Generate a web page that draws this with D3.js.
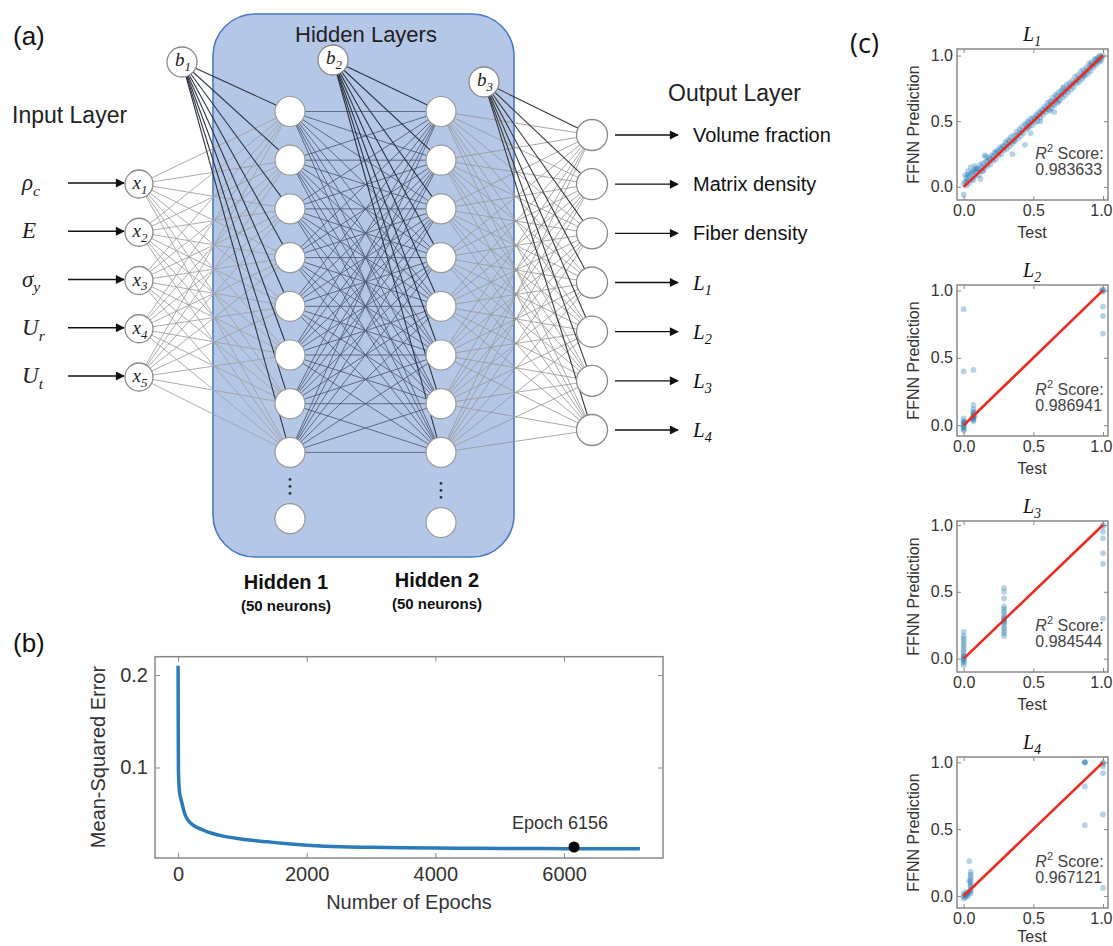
<!DOCTYPE html>
<html>
<head>
<meta charset="utf-8">
<script src="https://cdn.jsdelivr.net/npm/d3@7"></script>
<style>
  body { margin: 0; background: #fff; }
  svg { display: block; }
</style>
</head>
<body>
<div id="chart"></div>
<script>
// ---------------- data ----------------
// (a) network schematic
const inputSymbols = [["ρ", "c"], ["E", ""], ["σ", "y"], ["U", "r"], ["U", "t"]];
const inputNodes = ["1", "2", "3", "4", "5"];
const hiddenShown = [1, 2, 3, 4, 5, 6, 7, 8];
const biasNodes = ["1", "2", "3"];
const outputLabels = [["Volume fraction", ""], ["Matrix density", ""], ["Fiber density", ""],
  ["L", "1"], ["L", "2"], ["L", "3"], ["L", "4"]];
const hiddenTitles = ["Hidden 1", "Hidden 2"];
const hiddenSizes = ["(50 neurons)", "(50 neurons)"];

// (b) training loss
const epochs = [0, 2, 5, 10, 20, 40, 62, 90, 124, 180, 279, 400, 537, 700, 925, 1150, 1390,
  1700, 2010, 2527, 3000, 3500, 4000, 4500, 5000, 5500, 6000, 6500, 7000, 7180];
const mse = [0.210, 0.150, 0.100, 0.087, 0.075, 0.067, 0.061, 0.053, 0.0466, 0.041, 0.0358,
  0.032, 0.0286, 0.0258, 0.0232, 0.0212, 0.0196, 0.0176, 0.0160, 0.0142, 0.0136, 0.0131,
  0.0128, 0.0126, 0.0124, 0.0123, 0.0122, 0.0121, 0.0120, 0.0120];
const bestEpoch = 6156;
const bestMse = 0.0140;
const epochTicks = [0, 2000, 4000, 6000];
const mseTicks = [0.1, 0.2];

// (c) prediction vs test
const scatterTitles = ["1", "2", "3", "4"];
const r2Scores = ["0.983633", "0.986941", "0.984544", "0.967121"];
const unitTicks = [0, 0.5, 1];
const l1Points = [[0.00,-0.06],[0.00,0.02],[0.01,0.04],[0.01,0.09],[0.02,0.01],[0.02,0.07],[0.03,0.05],
  [0.03,0.12],[0.04,0.03],[0.05,0.10],[0.05,0.15],[0.06,0.06],[0.07,0.12],[0.08,0.08],[0.08,0.16],
  [0.09,0.11],[0.10,0.14],[0.11,0.09],[0.12,0.17],[0.13,0.12],[0.14,0.18],[0.15,0.14],[0.15,0.24],
  [0.16,0.19],[0.17,0.16],[0.18,0.22],[0.19,0.17],[0.20,0.24],[0.21,0.20],[0.22,0.26],[0.23,0.21],
  [0.24,0.28],[0.25,0.24],[0.26,0.30],[0.27,0.25],[0.28,0.31],[0.29,0.28],[0.30,0.34],[0.31,0.29],
  [0.32,0.36],[0.33,0.31],[0.34,0.38],[0.35,0.33],[0.35,0.25],[0.36,0.39],[0.37,0.35],[0.38,0.42],
  [0.39,0.37],[0.40,0.44],[0.41,0.39],[0.42,0.46],[0.43,0.41],[0.44,0.48],[0.44,0.32],[0.45,0.44],
  [0.46,0.50],[0.47,0.46],[0.48,0.52],[0.49,0.47],[0.50,0.53],[0.51,0.49],[0.52,0.55],[0.53,0.50],
  [0.54,0.57],[0.55,0.53],[0.56,0.59],[0.57,0.55],[0.58,0.61],[0.59,0.57],[0.60,0.64],[0.61,0.59],
  [0.62,0.65],[0.63,0.60],[0.64,0.68],[0.65,0.62],[0.65,0.57],[0.66,0.70],[0.67,0.64],[0.68,0.72],
  [0.69,0.66],[0.70,0.73],[0.71,0.68],[0.72,0.76],[0.73,0.70],[0.74,0.78],[0.75,0.72],[0.76,0.79],
  [0.77,0.74],[0.78,0.81],[0.79,0.76],[0.80,0.84],[0.81,0.79],[0.82,0.85],[0.83,0.80],[0.84,0.88],
  [0.85,0.82],[0.86,0.89],[0.87,0.85],[0.88,0.91],[0.89,0.86],[0.90,0.94],[0.91,0.88],[0.92,0.95],
  [0.93,0.91],[0.94,0.97],[0.95,0.93],[0.96,0.98],[0.97,0.95],[0.98,1.00],[0.99,0.97],[1.00,1.00],
  [0.02,0.04],[0.04,0.08],[0.06,0.11],[0.07,0.05],[0.09,0.14],[0.11,0.13],[0.13,0.15],[0.14,0.12],
  [0.17,0.20],[0.19,0.21],[0.21,0.23],[0.23,0.26],[0.25,0.27],[0.27,0.29],[0.29,0.31],[0.31,0.33],
  [0.33,0.35],[0.36,0.35],[0.38,0.39],[0.40,0.41],[0.42,0.43],[0.45,0.47],[0.47,0.49],[0.49,0.50],
  [0.51,0.52],[0.53,0.54],[0.55,0.56],[0.57,0.58],[0.59,0.60],[0.61,0.62],[0.62,0.58],[0.63,0.65],
  [0.66,0.66],[0.67,0.69],[0.68,0.65],[0.70,0.70],[0.72,0.72],[0.74,0.74],[0.76,0.76],[0.78,0.78],
  [0.80,0.80],[0.82,0.82],[0.84,0.84],[0.86,0.86],[0.88,0.88],[0.90,0.90],[0.92,0.92],[0.94,0.94],
  [0.96,0.96],[0.97,0.99],[0.99,0.99],[0.12,0.06],[0.08,0.13],[0.48,0.41],[0.55,0.50],[0.71,0.75],
  [0.16,0.23],[0.03,0.09],[0.91,0.93],[0.95,0.97],[0.98,0.96],[0.86,0.84],[0.64,0.63],[0.46,0.45]];
const l2Points = [[0.00,-0.04],[0.00,-0.03],[0.00,-0.02],[0.00,-0.01],[0.00,0.00],[0.00,0.01],
  [0.00,0.02],[0.00,0.03],[0.00,0.05],[0.01,0.02],[0.00,0.40],[0.00,0.86],
  [0.07,0.03],[0.07,0.04],[0.07,0.05],[0.07,0.06],[0.07,0.07],[0.07,0.08],[0.07,0.09],[0.07,0.10],
  [0.07,0.12],[0.07,0.15],[0.06,0.05],[0.08,0.07],[0.07,0.41],
  [1.00,1.00],[1.00,0.99],[1.00,1.01],[0.99,1.00],[1.00,0.88],[1.00,0.81],[1.00,0.68]];
const l3Points = [[0.00,-0.05],[0.00,-0.03],[0.00,-0.02],[0.00,-0.01],[0.00,0.00],[0.00,0.01],
  [0.00,0.02],[0.00,0.03],[0.00,0.05],[0.00,0.07],[0.00,0.09],[0.00,0.11],[0.00,0.13],[0.00,0.15],
  [0.00,0.17],[0.00,0.20],
  [0.29,0.17],[0.29,0.19],[0.29,0.21],[0.29,0.23],[0.29,0.25],[0.29,0.27],[0.29,0.28],[0.29,0.29],
  [0.29,0.30],[0.29,0.31],[0.29,0.33],[0.29,0.35],[0.29,0.37],[0.29,0.39],[0.29,0.45],[0.29,0.50],
  [0.29,0.53],
  [1.00,1.00],[1.00,0.99],[1.00,0.95],[1.00,0.90],[1.00,0.79],[1.00,0.71],[1.00,0.30]];
const l4Points = [[0.00,-0.02],[0.00,0.00],[0.00,0.02],[0.01,0.01],[0.01,-0.01],[0.02,0.03],
  [0.02,0.00],[0.03,0.02],[0.03,0.00],[0.04,0.03],[0.04,0.11],[0.04,0.26],[0.05,0.02],[0.05,0.04],
  [0.05,0.05],[0.05,0.07],[0.05,0.08],[0.05,0.10],[0.05,0.12],[0.05,0.14],[0.05,0.16],[0.05,0.18],
  [0.87,1.00],[0.87,1.00],[0.87,1.00],[0.87,0.82],[0.87,0.53],
  [1.00,1.00],[1.00,0.99],[1.00,0.97],[1.00,0.92],[1.00,0.61],[1.00,0.06]];
const scatterSets = [l1Points, l2Points, l3Points, l4Points];
const yLimits = [[-0.1, 1.05], [-0.08, 1.04], [-0.1, 1.03], [-0.09, 1.04]];

// ---------------- setup ----------------
const width = 1113;
const height = 946;
const sans = "'Liberation Sans', Arial, sans-serif";
const serif = "'Liberation Serif', 'Times New Roman', serif";

const svg = d3.select("#chart").append("svg")
  .attr("width", width)
  .attr("height", height)
  .style("font-family", sans);

svg.append("defs").append("marker")
  .attr("id", "arrow")
  .attr("viewBox", "0 0 10 10")
  .attr("refX", 9).attr("refY", 5)
  .attr("markerWidth", 11).attr("markerHeight", 9)
  .attr("markerUnits", "userSpaceOnUse")
  .attr("orient", "auto")
  .append("path").attr("d", "M0,0L10,5L0,10z").attr("fill", "#111");

// italic symbol with subscript
function mathText(sel, base, sub, size) {
  sel.style("font-family", serif).style("font-style", "italic").attr("font-size", size);
  sel.append("tspan").text(base);
  if (sub) sel.append("tspan").attr("font-size", size * 0.68).attr("dy", size * 0.25).text(sub);
}

const panelLabel = (x, y, t, size) => svg.append("text")
  .attr("x", x).attr("y", y).attr("font-size", size).attr("fill", "#111").text(t);

// ---------------- (a) network ----------------
panelLabel(13, 45, "(a)", 26);

const layerX = d3.scalePoint().domain(["in", "h1", "h2", "out"]).range([139, 592]);
const yIn = d3.scalePoint().domain(inputNodes).range([184, 377]);
const yHid = d3.scalePoint().domain(hiddenShown).range([111.5, 452.4]);
const yOut = d3.scalePoint().domain(outputLabels.map(d => d.join(""))).range([135, 430]);
const biasPos = [[layerX("in") + 43, 62], [layerX("h1") + 43, 60], [layerX("h2") + 43, 82]];

const net = svg.append("g");
net.append("rect")
  .attr("x", 213).attr("y", 14).attr("width", 301).attr("height", 543).attr("rx", 42)
  .attr("fill", "#b4c7e7").attr("stroke", "#4c78c4").attr("stroke-width", 1.6);

net.append("text").attr("x", 366).attr("y", 42).attr("text-anchor", "middle")
  .attr("font-size", 22).attr("fill", "#222").text("Hidden Layers");
net.append("text").attr("x", 12).attr("y", 123)
  .attr("font-size", 23).attr("fill", "#222").text("Input Layer");
net.append("text").attr("x", 668).attr("y", 101)
  .attr("font-size", 23).attr("fill", "#222").text("Output Layer");

// links
const links = [];
inputNodes.forEach(i => hiddenShown.forEach(h =>
  links.push({ x1: layerX("in"), y1: yIn(i), x2: layerX("h1"), y2: yHid(h), c: "#a3a3a3", w: 0.9 })));
hiddenShown.forEach(a => hiddenShown.forEach(b =>
  links.push({ x1: layerX("h1"), y1: yHid(a), x2: layerX("h2"), y2: yHid(b), c: "#4f5a70", w: 0.85 })));
hiddenShown.forEach(h => outputLabels.forEach(o =>
  links.push({ x1: layerX("h2"), y1: yHid(h), x2: layerX("out"), y2: yOut(o.join("")), c: "#9a9a9a", w: 0.85 })));
hiddenShown.forEach(h => {
  links.push({ x1: biasPos[0][0], y1: biasPos[0][1], x2: layerX("h1"), y2: yHid(h), c: "#2e3440", w: 1.1 });
  links.push({ x1: biasPos[1][0], y1: biasPos[1][1], x2: layerX("h2"), y2: yHid(h), c: "#2e3440", w: 1.1 });
});
outputLabels.forEach(o =>
  links.push({ x1: biasPos[2][0], y1: biasPos[2][1], x2: layerX("out"), y2: yOut(o.join("")), c: "#3a3a3a", w: 1.1 }));

net.append("g").selectAll("line").data(links).join("line")
  .attr("x1", d => d.x1).attr("y1", d => d.y1).attr("x2", d => d.x2).attr("y2", d => d.y2)
  .attr("stroke", d => d.c).attr("stroke-width", d => d.w);

// input nodes + arrows
const gIn = net.append("g").selectAll("g").data(inputNodes).join("g")
  .attr("transform", d => `translate(${layerX("in")},${yIn(d)})`);
gIn.append("line").attr("x1", -71).attr("x2", -15).attr("y1", -1).attr("y2", -1)
  .attr("stroke", "#111").attr("stroke-width", 1.4).attr("marker-end", "url(#arrow)");
gIn.append("circle").attr("r", 14).attr("fill", "#fff").attr("stroke", "#8a8a8a").attr("stroke-width", 1.3);
gIn.append("text").attr("text-anchor", "middle").attr("x", 1).attr("y", 5).attr("fill", "#222")
  .each(function (d) { mathText(d3.select(this), "x", d, 19); });
gIn.append("text").attr("x", -117).attr("y", 6).attr("fill", "#222")
  .each(function (d, i) { mathText(d3.select(this), inputSymbols[i][0], inputSymbols[i][1], 23); });

// hidden nodes
["h1", "h2"].forEach((layer, li) => {
  const g = net.append("g");
  g.selectAll("circle").data(hiddenShown).join("circle")
    .attr("cx", layerX(layer)).attr("cy", d => yHid(d)).attr("r", 15)
    .attr("fill", "#fff").attr("stroke", "#9a9a9a").attr("stroke-width", 1.2);
  const lastY = yHid(8) + yHid.step() * (li === 0 ? 1.36 : 1.44);
  g.append("circle").attr("cx", layerX(layer)).attr("cy", lastY).attr("r", 15)
    .attr("fill", "#fff").attr("stroke", "#9a9a9a").attr("stroke-width", 1.2);
  g.selectAll(".dot").data([0, 1, 2]).join("circle").attr("class", "dot")
    .attr("cx", layerX(layer)).attr("cy", d => yHid(8) + 27 + li * 4 + d * 7).attr("r", 1.4)
    .attr("fill", "#333");
  svg.append("text").attr("x", layerX(layer) - 4).attr("y", 589 - li * 2).attr("text-anchor", "middle")
    .attr("font-size", 20).attr("font-weight", "bold").attr("fill", "#111").text(hiddenTitles[li]);
  svg.append("text").attr("x", layerX(layer) - 4).attr("y", 611 - li * 2).attr("text-anchor", "middle")
    .attr("font-size", 15).attr("font-weight", "bold").attr("fill", "#111").text(hiddenSizes[li]);
});

// bias nodes
const gB = net.append("g").selectAll("g").data(biasNodes).join("g")
  .attr("transform", (d, i) => `translate(${biasPos[i][0]},${biasPos[i][1]})`);
gB.append("circle").attr("r", 15).attr("fill", "#fff").attr("stroke", "#8a8a8a").attr("stroke-width", 1.3);
gB.append("text").attr("text-anchor", "middle").attr("x", 1).attr("y", 4).attr("fill", "#222")
  .each(function (d) { mathText(d3.select(this), "b", d, 19); });

// output nodes + arrows + labels
const gOut = net.append("g").selectAll("g").data(outputLabels).join("g")
  .attr("transform", d => `translate(${layerX("out")},${yOut(d.join(""))})`);
gOut.append("circle").attr("r", 15.5).attr("fill", "#fff").attr("stroke", "#8a8a8a").attr("stroke-width", 1.3);
gOut.append("line").attr("x1", 23).attr("x2", 86).attr("y1", 0).attr("y2", 0)
  .attr("stroke", "#111").attr("stroke-width", 1.4).attr("marker-end", "url(#arrow)");
gOut.append("text").attr("x", 101).attr("y", 7).attr("fill", "#111")
  .each(function (d) {
    const t = d3.select(this);
    if (d[1]) mathText(t, d[0], d[1], 21);
    else t.attr("font-size", 20).text(d[0]);
  });

// ---------------- (b) loss curve ----------------
panelLabel(13, 652, "(b)", 26);

const bx = d3.scaleLinear().domain([-359, 7539]).range([155, 663]);
const by = d3.scaleLinear().domain([0.0021, 0.2199]).range([858, 656.7]);
const gb = svg.append("g");

gb.append("path")
  .datum(epochs.map((e, i) => [e, mse[i]]))
  .attr("d", d3.line().x(d => bx(d[0])).y(d => by(d[1])).curve(d3.curveMonotoneX))
  .attr("fill", "none").attr("stroke", "#2b7bbb").attr("stroke-width", 3.5);

gb.append("circle").attr("cx", bx(bestEpoch)).attr("cy", by(bestMse)).attr("r", 5.5).attr("fill", "#000");
gb.append("text").attr("x", bx(bestEpoch) - 14).attr("y", 829).attr("text-anchor", "middle")
  .attr("font-size", 18).attr("fill", "#333").text(`Epoch ${bestEpoch}`);

function styleAxis(g, size, color) {
  g.select(".domain").remove();
  g.selectAll("line").attr("stroke", "#888");
  g.selectAll("text").attr("font-size", size).attr("fill", color).style("font-family", sans);
}

gb.append("g").attr("transform", "translate(0,858)")
  .call(d3.axisBottom(bx).tickValues(epochTicks).tickSize(-5).tickPadding(9).tickFormat(d3.format("d")))
  .call(g => styleAxis(g, 20, "#333"));
gb.append("g").attr("transform", "translate(0,656.7)")
  .call(d3.axisTop(bx).tickValues(epochTicks).tickSize(-5).tickFormat(""))
  .call(g => styleAxis(g, 20, "#333"));
gb.append("g").attr("transform", "translate(155,0)")
  .call(d3.axisLeft(by).tickValues(mseTicks).tickSize(-5).tickPadding(7).tickFormat(d3.format(".1f")))
  .call(g => styleAxis(g, 20, "#333"));
gb.append("g").attr("transform", "translate(663,0)")
  .call(d3.axisRight(by).tickValues(mseTicks).tickSize(-5).tickFormat(""))
  .call(g => styleAxis(g, 20, "#333"));

gb.append("rect").attr("x", 155).attr("y", 656.7).attr("width", 508).attr("height", 201.3)
  .attr("fill", "none").attr("stroke", "#888").attr("stroke-width", 1.5);

gb.append("text").attr("x", 409).attr("y", 909).attr("text-anchor", "middle")
  .attr("font-size", 20).attr("fill", "#333").text("Number of Epochs");
gb.append("text").attr("transform", "translate(98,757) rotate(-90)").attr("dy", "0.35em")
  .attr("text-anchor", "middle").attr("font-size", 20).attr("fill", "#333").text("Mean-Squared Error");

// ---------------- (c) scatter panels ----------------
svg.append("text").attr("x", 850).attr("y", 53).attr("font-size", 27)
  .attr("font-family", "'Open Sans', sans-serif").attr("fill", "#111").text("(c)");

const panelTop = d3.scalePoint().domain([0, 1, 2, 3]).range([49, 757]);
const cx = d3.scaleLinear().domain([-0.048, 1.036]).range([957, 1108]);
const boxH = 151;

scatterSets.forEach((pts, i) => {
  const top = panelTop(i);
  const bottom = top + boxH;
  const cy = d3.scaleLinear().domain(yLimits[i]).range([bottom, top]);
  const g = svg.append("g");

  g.append("g").selectAll("circle").data(pts).join("circle")
    .attr("cx", d => cx(d[0])).attr("cy", d => cy(d[1])).attr("r", 2.9)
    .attr("fill", "#1f77b4").attr("fill-opacity", 0.33);

  g.append("line")
    .attr("x1", cx(0)).attr("y1", cy(0)).attr("x2", cx(1)).attr("y2", cy(1))
    .attr("stroke", "#ec2a1f").attr("stroke-width", 2.6);

  g.append("g").attr("transform", `translate(0,${bottom})`)
    .call(d3.axisBottom(cx).tickValues(unitTicks).tickSize(-4).tickPadding(5).tickFormat(d3.format(".1f")))
    .call(a => styleAxis(a, 16, "#333"))
    .call(a => a.selectAll(".tick text").filter(d => d === 1).attr("text-anchor", "end").attr("x", 9));
  g.append("g").attr("transform", `translate(0,${top})`)
    .call(d3.axisTop(cx).tickValues(unitTicks).tickSize(-4).tickFormat(""))
    .call(a => styleAxis(a, 16, "#333"));
  g.append("g").attr("transform", "translate(957,0)")
    .call(d3.axisLeft(cy).tickValues(unitTicks).tickSize(-4).tickPadding(4).tickFormat(d3.format(".1f")))
    .call(a => styleAxis(a, 16, "#333"));
  g.append("g").attr("transform", "translate(1108,0)")
    .call(d3.axisRight(cy).tickValues(unitTicks).tickSize(-4).tickFormat(""))
    .call(a => styleAxis(a, 16, "#333"));

  g.append("rect").attr("x", 957).attr("y", top).attr("width", 151).attr("height", boxH)
    .attr("fill", "none").attr("stroke", "#888").attr("stroke-width", 1.5);

  g.append("text").attr("x", 1032).attr("y", top - 8).attr("text-anchor", "middle").attr("fill", "#111")
    .each(function () { mathText(d3.select(this), "L", scatterTitles[i], 20); });

  const r2 = g.append("text").attr("x", cx(0.5) + 2).attr("y", top + 110)
    .attr("font-size", 16).attr("fill", "#444");
  r2.append("tspan").style("font-style", "italic").text("R");
  r2.append("tspan").attr("font-size", 11).attr("dy", -7).text("2");
  r2.append("tspan").attr("dy", 7).text(" Score:");
  g.append("text").attr("x", cx(0.5) + 2).attr("y", top + 126)
    .attr("font-size", 16).attr("fill", "#444").text(r2Scores[i]);

  g.append("text").attr("x", 1032).attr("y", Math.min(bottom + 38, height - 4)).attr("text-anchor", "middle")
    .attr("font-size", 16).attr("fill", "#333").text("Test");
  g.append("text").attr("transform", `translate(913,${top + boxH / 2}) rotate(-90)`).attr("dy", "0.35em")
    .attr("text-anchor", "middle").attr("font-size", 16).attr("fill", "#333").text("FFNN Prediction");
});
</script>
</body>
</html>
